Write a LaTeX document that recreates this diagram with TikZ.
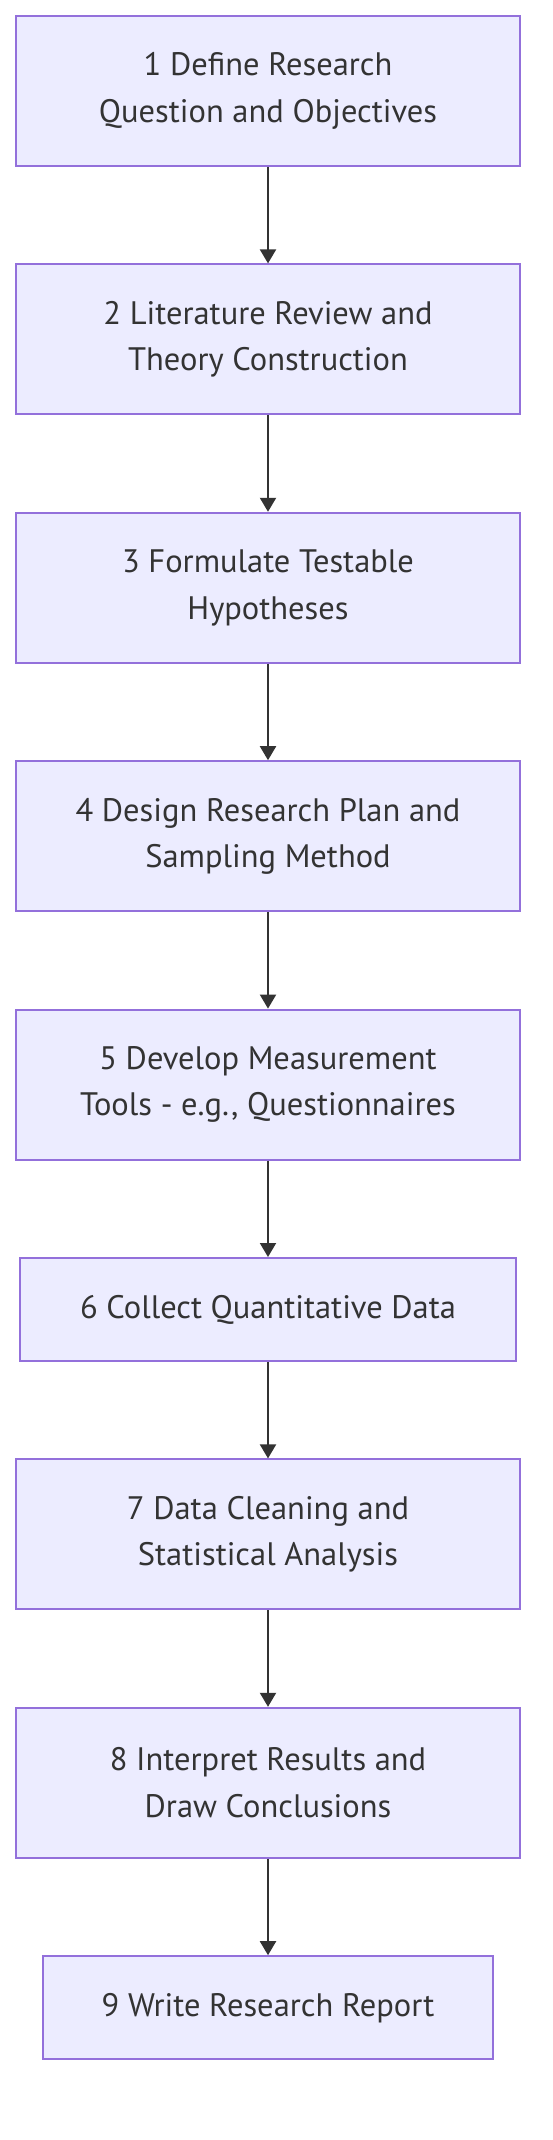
\documentclass[tikz,border=0pt]{standalone}
\usepackage{fontspec}
\setmainfont{PT Sans}
\usetikzlibrary{positioning, arrows.meta}
\definecolor{boxfill}{HTML}{ECECFF}
\definecolor{boxline}{HTML}{9370DB}
\definecolor{ink}{HTML}{333333}
\tikzset{
    stage/.style={draw=boxline, fill=boxfill, line width=2pt, text=ink,
        minimum width=504pt, minimum height=150pt, inner sep=0pt, align=center,
        font=\fontsize{32.5}{46.5}\selectfont}, % every box of the flow
    short/.style={minimum height=103pt}, % boxes with one line of text
    node distance=96.4pt, % gap between two boxes
    >={Triangle[length=14pt,width=16pt]}, % filled arrow heads
}

\begin{document}
\begin{tikzpicture}
    \useasboundingbox (0,0) rectangle (552pt,-2140pt);
    \node[stage] (s1) at (268pt,-91pt) {1 Define Research\\Question and Objectives};
    \node[stage, below=of s1] (s2) {2 Literature Review and\\Theory Construction};
    \node[stage, below=of s2] (s3) {3 Formulate Testable\\Hypotheses};
    \node[stage, below=of s3] (s4) {4 Design Research Plan and\\Sampling Method};
    \node[stage, below=of s4] (s5) {5 Develop Measurement\\Tools - e.g., Questionnaires};
    \node[stage, short, minimum width=496pt, below=of s5] (s6) {6 Collect Quantitative Data};
    \node[stage, below=of s6] (s7) {7 Data Cleaning and\\Statistical Analysis};
    \node[stage, below=of s7] (s8) {8 Interpret Results and\\Draw Conclusions};
    \node[stage, short, minimum width=450pt, below=of s8] (s9) {9 Write Research Report};
    \draw[->, ink, line width=2pt]
    (s1) edge (s2)
    (s2) edge (s3)
    (s3) edge (s4)
    (s4) edge (s5)
    (s5) edge (s6)
    (s6) edge (s7)
    (s7) edge (s8)
    (s8) edge (s9);
\end{tikzpicture}
\end{document}
